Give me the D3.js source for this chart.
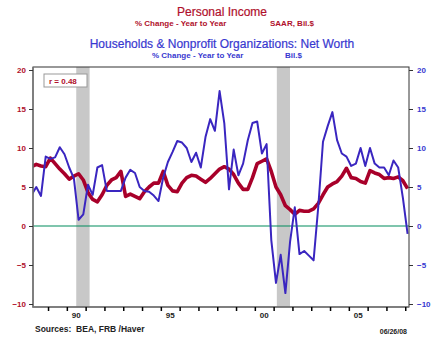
<!DOCTYPE html>
<html><head><meta charset="utf-8">
<script src="https://cdn.jsdelivr.net/npm/d3@7"></script>
<style>
body{margin:0;background:#fff;}
svg{display:block;font-family:"Liberation Sans",Arial,sans-serif;}
</style></head>
<body><svg id="c" width="443" height="359"></svg>
<script>
// Quarterly data, 1988Q1 .. 2008Q1 (plotted at mid-quarter)
const startYear = 1988;
const personalIncome = [7.6,7.9,7.7,7.6, 8.7,8.0,7.3,6.7, 6.0,6.4,6.7,5.9, 4.3,3.4,3.1,4.0,
  5.2,5.9,6.2,7.0, 3.8,4.1,3.8,3.5, 4.4,5.0,5.5,5.5, 7.0,5.2,4.5,4.4,
  5.5,6.2,6.5,6.4, 6.0,5.6,6.1,6.7, 7.3,7.6,7.3,6.6, 5.5,4.7,4.7,6.2,
  8.0,8.3,8.6,7.0, 5.0,4.0,2.6,2.1, 1.5,2.0,1.9,1.9, 2.2,2.9,4.0,5.0,
  5.4,5.7,6.4,7.4, 6.2,6.1,5.7,5.5, 7.1,6.8,6.6,6.1, 6.2,6.1,6.3,5.8, 4.8];
const netWorth = [4.0,5.0,3.85,8.9, 8.6,8.8,10.1,9.2, 7.5,6.1,0.8,1.5, 5.3,4.0,7.5,7.8,
  4.5,4.5,4.5,4.5, 6.2,7.2,6.8,5.0, 4.5,4.4,3.9,3.2, 6.2,8.2,9.5,10.9,
  10.7,10.0,8.2,9.4, 7.5,11.4,13.7,12.2, 17.3,13.2,4.7,9.8, 6.5,8.0,11.0,13.2,
  13.4,9.3,10.5,-1.8, -7.3,-3.7,-8.6,-2.0, 2.4,-3.6,-3.2,-3.8, -4.4,2.5,10.8,12.8,
  14.6,11.0,9.3,8.9, 7.7,8.0,10.0,7.7, 10.0,8.0,7.5,7.5, 6.5,8.4,7.5,3.6, -1.0];
const recessions = [[1990.5, 1991.21], [2001.17, 2001.87]];
const yTicks = [-10,-5,0,5,10,15,20];
const xTickYears = d3.range(1989, 2009);
const xLabels = [{year:1990,label:"90"},{year:1995,label:"95"},{year:2000,label:"00"},{year:2005,label:"05"}];
const corrLabel = "r = 0.48";

const RED = "#a8002a", BLUE = "#3a26c0", REDT = "#b0102c", BLUET = "#3838d0";
const svg = d3.select("#c");
const L = 33, R = 409, T = 67, B = 307;
const x = d3.scaleLinear().domain([1988.2, 2008.2]).range([L, R]);
const y = d3.scaleLinear().domain([-10, 20]).range([304, 70]);
const tq = i => startYear + i / 4 + 0.125;

svg.append("defs").append("clipPath").attr("id","clip")
  .append("rect").attr("x",L).attr("y",T).attr("width",R-L).attr("height",B-T);

// titles
svg.append("text").attr("x",222).attr("y",16).attr("text-anchor","middle")
  .attr("font-size",12).attr("fill",REDT).attr("stroke",REDT).attr("stroke-width",0.2).text("Personal Income");
svg.append("text").attr("x",135).attr("y",26).attr("font-size",8).attr("font-weight","bold")
  .attr("fill",REDT).text("% Change - Year to Year");
svg.append("text").attr("x",270).attr("y",26).attr("font-size",8).attr("font-weight","bold")
  .attr("fill",REDT).text("SAAR, Bil.$");
svg.append("text").attr("x",222).attr("y",48).attr("text-anchor","middle")
  .attr("font-size",12).attr("fill",BLUET).attr("stroke",BLUET).attr("stroke-width",0.2)
  .text("Households & Nonprofit Organizations: Net Worth");
svg.append("text").attr("x",152).attr("y",58).attr("font-size",8).attr("font-weight","bold")
  .attr("fill",BLUET).text("% Change - Year to Year");
svg.append("text").attr("x",285).attr("y",58).attr("font-size",8).attr("font-weight","bold")
  .attr("fill",BLUET).text("Bil.$");

// recession bars
svg.append("g").selectAll("rect").data(recessions).join("rect")
  .attr("x",d=>x(d[0])).attr("width",d=>x(d[1])-x(d[0]))
  .attr("y",T).attr("height",B-T).attr("fill","#c8c8c8");

// zero line
svg.append("line").attr("x1",L).attr("x2",R).attr("y1",y(0)).attr("y2",y(0))
  .attr("stroke","#008c5c").attr("stroke-width",1.2);

// lines
const line = d3.line().x((d,i)=>x(tq(i))).y(d=>y(d));
const lg = svg.append("g").attr("clip-path","url(#clip)");
lg.append("path").datum(personalIncome).attr("d",line).attr("fill","none")
  .attr("stroke",RED).attr("stroke-width",3.6).attr("stroke-linejoin","round");
lg.append("path").datum(netWorth).attr("d",line).attr("fill","none")
  .attr("stroke",BLUE).attr("stroke-width",2).attr("stroke-linejoin","round");

// frame
svg.append("rect").attr("x",L).attr("y",T).attr("width",R-L).attr("height",B-T)
  .attr("fill","none").attr("stroke","#333").attr("stroke-width",1);
svg.append("path").attr("d",`M${L},${T}V${B}H${R}`).attr("fill","none")
  .attr("stroke","#777").attr("stroke-width",1.5);

// axes
const yl = svg.append("g").attr("transform",`translate(${L},0)`)
  .call(d3.axisLeft(y).tickValues(yTicks).tickSize(4).tickPadding(3));
yl.select(".domain").remove();
yl.selectAll("text").attr("fill",REDT).attr("font-size",8).attr("font-weight","bold")
  .attr("font-family","Liberation Sans, Arial, sans-serif");
yl.selectAll("line").attr("stroke","#333");
const yr = svg.append("g").attr("transform",`translate(${R},0)`)
  .call(d3.axisRight(y).tickValues(yTicks).tickSize(4).tickPadding(4));
yr.select(".domain").remove();
yr.selectAll("text").attr("fill",BLUET).attr("font-size",8).attr("font-weight","bold")
  .attr("font-family","Liberation Sans, Arial, sans-serif");
yr.selectAll("line").attr("stroke","#333");

const xa = svg.append("g").attr("transform",`translate(0,${B})`)
  .call(d3.axisBottom(x).tickValues(xTickYears).tickSize(4).tickFormat(""));
xa.select(".domain").remove();
xa.selectAll("line").attr("stroke","#000").attr("stroke-width",1.5);
svg.append("g").selectAll("text").data(xLabels).join("text")
  .attr("x",d=>x(d.year+0.5)).attr("y",318).attr("text-anchor","middle")
  .attr("font-size",8).attr("font-weight","bold").attr("fill","#222").text(d=>d.label);

// r box
svg.append("rect").attr("x",44).attr("y",74).attr("width",43).attr("height",13)
  .attr("fill","#fff").attr("stroke","#999").attr("stroke-width",1);
svg.append("text").attr("x",49).attr("y",84).attr("font-size",8).attr("font-weight","bold")
  .attr("fill",REDT).text(corrLabel);

// footer
svg.append("text").attr("x",35).attr("y",332).attr("font-size",8.5).attr("font-weight","bold")
  .attr("fill","#222").attr("xml:space","preserve").text("Sources:  BEA, FRB /Haver");
svg.append("text").attr("x",407).attr("y",334).attr("text-anchor","end").attr("font-size",7)
  .attr("font-weight","bold").attr("fill","#222").text("06/26/08");
</script></body></html>
